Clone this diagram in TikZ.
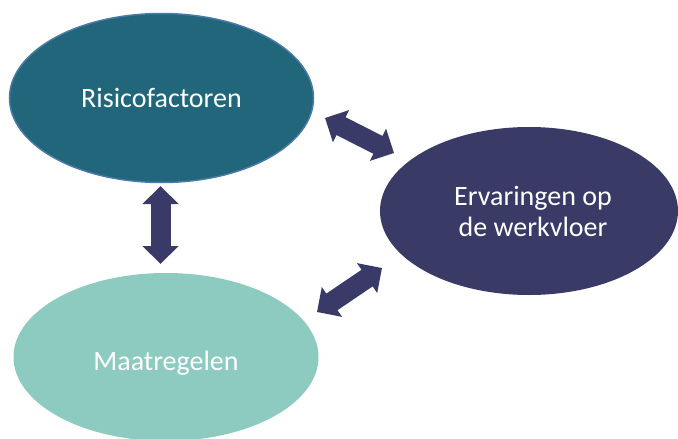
\documentclass[tikz,border=0pt]{standalone}
\usepackage{fontspec}
\setmainfont{Carlito}
\usetikzlibrary{shapes.geometric,arrows.meta}
\definecolor{riskfill}{HTML}{21667A}
\definecolor{riskline}{HTML}{4A7BA8}
\definecolor{expfill}{HTML}{393A66}
\definecolor{measfill}{HTML}{8DCBC1}
\definecolor{arrowcol}{HTML}{3A3A68}
\tikzset{
  blob/.style={ellipse, inner sep=0pt, text=white, align=center,
    font=\fontsize{28}{31}\selectfont},
  biarrow/.style={draw=arrowcol, line width=20pt,
    {Triangle[width=35pt,length=18pt]}-{Triangle[width=35pt,length=18pt]}}
}
\begin{document}
\begin{tikzpicture}[x=1pt,y=-1pt]
\useasboundingbox (0,0) rectangle (678,439);
\node[blob, fill=riskfill, draw=riskline, line width=1.5pt,
  minimum width=304pt, minimum height=169pt] (risk) at (161.5,98) {Risicofactoren};
\node[blob, fill=expfill, minimum width=298pt, minimum height=168pt] (exp) at (529,211) {\hspace*{8pt}Ervaringen op\\\hspace*{8pt}de werkvloer};
\node[blob, fill=measfill, minimum width=305pt, minimum height=168pt] (meas) at (166,357) {\raisebox{-6pt}[\height][\depth]{Maatregelen}};
\coordinate (a1s) at (325,118);
\coordinate (a1e) at (394,153);
\coordinate (a2s) at (317,312);
\coordinate (a2e) at (382,268);
\coordinate (a3s) at (160.5,186);
\coordinate (a3e) at (160.5,264);
\draw[biarrow] (a1s) -- (a1e);
\draw[biarrow] (a2s) -- (a2e);
\draw[biarrow] (a3s) -- (a3e);
\end{tikzpicture}
\end{document}
